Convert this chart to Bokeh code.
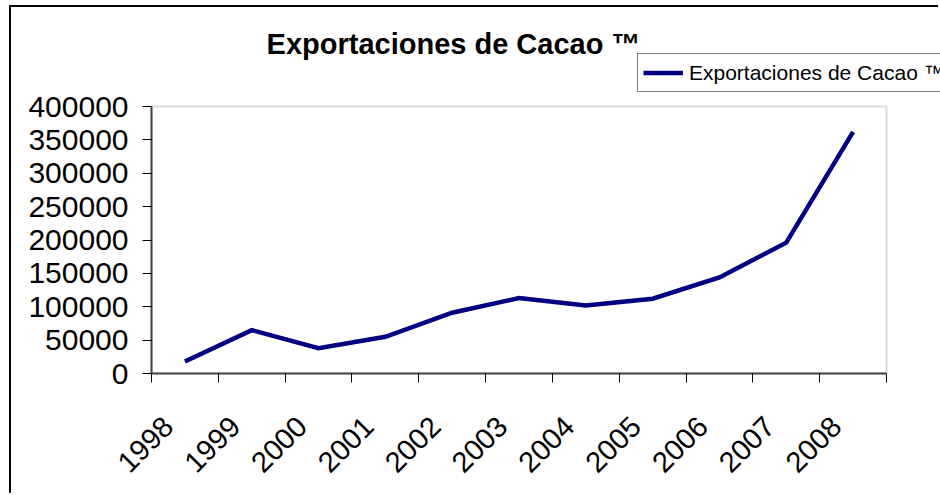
from math import pi
from bokeh.plotting import figure
from bokeh.models import (Range1d, FixedTicker, NumeralTickFormatter, Label,
                          Legend, LegendItem, BoxAnnotation)
from bokeh.embed import file_html
from bokeh.resources import INLINE

# ---- data ----
title_text = "Exportaciones de Cacao ™"
series_name = "Exportaciones de Cacao ™"
years = ["1998", "1999", "2000", "2001", "2002", "2003",
         "2004", "2005", "2006", "2007", "2008"]
exports = [18000, 65000, 38000, 55000, 91000, 113000,
           102000, 112000, 144000, 196000, 362000]
y_ticks = [0, 50000, 100000, 150000, 200000, 250000, 300000, 350000, 400000]

FONT = "Liberation Sans"

# ---- layout geometry (pixels) ----
W, H = 929, 488            # canvas (page 940x495 minus the outer chart border offset)
FRAME_LEFT = 140           # plot area left edge in canvas px
PLOT_W, PLOT_H = 735, 267  # visible plot-area box
FRAME_H = 366              # frame extends up to the canvas top
FRAME_W = W - FRAME_LEFT

n = len(years)
y_max = y_ticks[-1]
x_pos = [i + 0.5 for i in range(n)]          # category centres
boundaries = list(range(n + 1))              # category boundaries (tick marks)
label_pos = [x - 0.25 for x in x_pos]        # where rotated labels are anchored

p = figure(width=W, height=H, output_backend="svg", toolbar_location=None,
           title=None,
           x_range=Range1d(0, n * FRAME_W / PLOT_W),
           y_range=Range1d(0, y_max * FRAME_H / PLOT_H),
           min_border_left=FRAME_LEFT, min_border_right=0,
           min_border_top=0, min_border_bottom=H - FRAME_H)

p.grid.visible = False
p.background_fill_color = "white"
p.border_fill_color = "white"
p.outline_line_color = None
p.styles = {"border-left": "2px solid black", "border-top": "2px solid black",
            "margin-left": "9px", "margin-top": "5px"}

# plot-area box (grey, Excel style)
p.add_layout(BoxAnnotation(left=0, right=n, bottom=0, top=y_max,
                           fill_alpha=0, line_color="#808080", line_width=2,
                           level="underlay"))

r = p.line(x=x_pos, y=exports, line_color="#000080", line_width=4.5,
           line_join="miter")

# ---- y axis ----
ya = p.yaxis[0]
ya.bounds = (0, y_max)
ya.ticker = FixedTicker(ticks=y_ticks)
ya.formatter = NumeralTickFormatter(format="0")
ya.major_label_text_font = FONT
ya.major_label_text_font_size = "30px"
ya.major_label_text_color = "black"
ya.major_tick_out = 9
ya.major_tick_in = 0
ya.major_tick_line_color = "black"
ya.minor_tick_out = 0
ya.minor_tick_in = 0
ya.axis_line_color = "#404040"
ya.axis_line_width = 2
ya.major_label_standoff = 14

# ---- x axis ----
xa = p.xaxis[0]
xa.bounds = (0, n)
xa.ticker = FixedTicker(ticks=label_pos, minor_ticks=boundaries)
xa.major_label_overrides = {x: y for x, y in zip(label_pos, years)}
xa.major_label_text_font = FONT
xa.major_label_text_font_size = "29px"
xa.major_label_text_color = "black"
xa.major_label_orientation = pi / 4
xa.major_label_standoff = 39
xa.major_tick_out = 0
xa.major_tick_in = 0
xa.minor_tick_out = 9
xa.minor_tick_in = 0
xa.minor_tick_line_color = "black"
xa.axis_line_color = "#404040"
xa.axis_line_width = 2

# ---- title ----
p.add_layout(Label(x=302, y=330, x_units="screen", y_units="screen",
                   text=title_text, text_font=FONT, text_font_style="bold",
                   text_font_size="29px", text_color="black",
                   text_align="center", text_baseline="alphabetic"))

# ---- legend ----
legend = Legend(items=[LegendItem(label=series_name, renderers=[r])],
                location=(486, 281), orientation="vertical",
                border_line_color="black", border_line_width=1,
                background_fill_color="white", background_fill_alpha=1.0,
                label_text_font=FONT, label_text_font_size="21px",
                label_text_color="black",
                glyph_width=40, glyph_height=27, label_height=27,
                label_standoff=6, padding=5, margin=0, spacing=0)
p.add_layout(legend)

open("out.html", "w").write(file_html(p, INLINE))
